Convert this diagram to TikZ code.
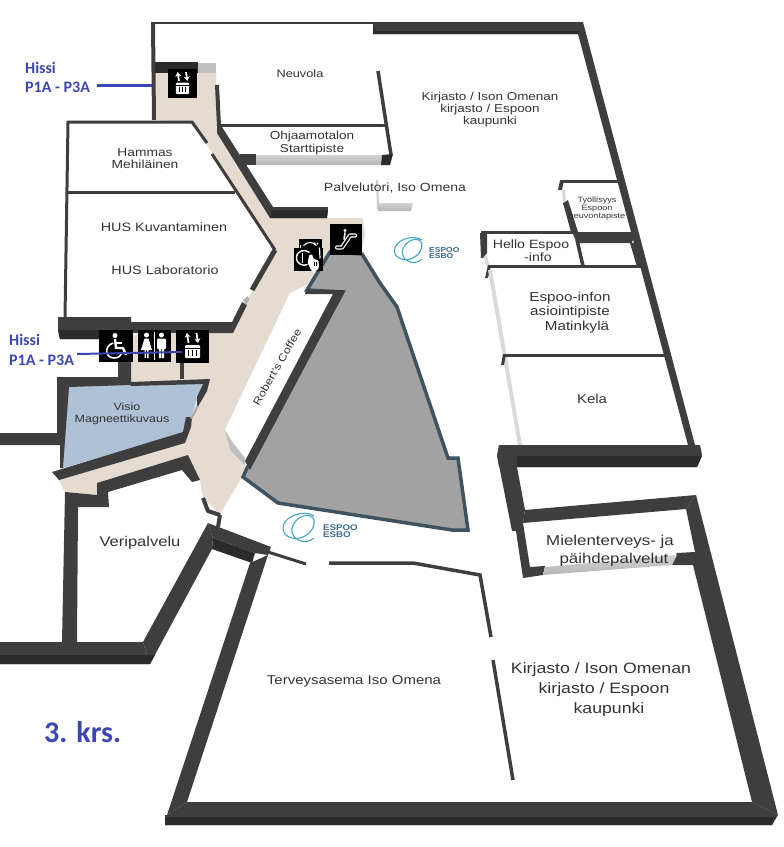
\documentclass[tikz,border=0pt]{standalone}
\usepackage{fontspec}
\setmainfont[FakeStretch=1.18]{Liberation Sans}
\newfontfamily\blueface{Carlito}
\usetikzlibrary{arrows.meta}
\definecolor{wallc}{HTML}{3E3E3E}
\definecolor{walld}{HTML}{2B2B2B}
\definecolor{floorc}{HTML}{E6DBD1}
\definecolor{voidc}{HTML}{A2A2A2}
\definecolor{voidb}{HTML}{3F5260}
\definecolor{visioc}{HTML}{AEC1D6}
\definecolor{bluec}{HTML}{3B46B4}
\definecolor{labelc}{HTML}{333333}
\definecolor{logoc}{HTML}{45A5C4}
\definecolor{logot}{HTML}{3A6A8E}
\tikzset{
 wall/.style={fill=wallc,draw=none},
 walldark/.style={fill=walld,draw=none},
 thin wall/.style={draw=wallc,line width=#1},
 thin wall/.default=3pt,
 glass/.style={top color=lightgray!70,bottom color=lightgray!95!black,draw=none},
 lbl/.style={text=labelc,align=center,inner sep=0pt,font=\fontsize{#1}{#1}\selectfont},
 lbl/.default=10,
 hissi/.style={text=bluec,anchor=west,inner sep=0pt,font=\blueface\bfseries\fontsize{16}{16}\selectfont},
 bluel/.style={draw=bluec,line width=2.5pt},
 logotext/.style={text=logot,inner sep=0pt,align=left,anchor=west,font=\bfseries\fontsize{#1}{#1}\selectfont},
 lift/.pic={
  \fill[black] (-16.5,-16.5) rectangle (16.5,16.5);
  \draw[white,line width=1.8pt,-{Stealth[length=4.5pt,width=6pt]}] (-4,-3) -- (-5.5,-13);
  \draw[white,line width=1.8pt,-{Stealth[length=4.5pt,width=6pt]}] (4,-13) -- (5.5,-3);
  \fill[white,rounded corners=1pt] (-7.5,-1) rectangle (7.5,12);
  \draw[black,line width=.8pt] (-7.5,2) -- (7.5,2);
  \draw[black,line width=.7pt] (-3.7,3.5) -- (-3.7,10) (0,3.5) -- (0,10) (3.7,3.5) -- (3.7,10);
 },
 wheelc/.pic={
  \fill[black] (-17,-16) rectangle (17,16);
  \fill[white] (-1,-10.5) circle (2.5);
  \draw[white,line width=2.4pt,line join=round] (-1,-7) -- (0,2) -- (7,2) -- (10,9);
  \draw[white,line width=1.6pt] (0,-3) -- (6,-3);
  \draw[white,line width=1.6pt] (-3,-3) .. controls (-12,0) and (-11,12) .. (-2,12) .. controls (2,12) and (5,10) .. (6,7);
 },
 wcicon/.pic={
  \fill[black] (-16.5,-16) rectangle (16.5,16);
  \fill[white] (-8,-11) circle (2.5);
  \fill[white] (-10,-7.5) -- (-6,-7.5) -- (-2.5,4) -- (-13.5,4) -- cycle;
  \fill[white] (-10,4) rectangle (-8.7,12) (-7.3,4) rectangle (-6,12);
  \draw[white,line width=.6pt] (0,-14) -- (0,14);
  \fill[white] (7,-11) circle (2.5);
  \fill[white,rounded corners=1pt] (2.5,-7.5) rectangle (11.5,3);
  \fill[white] (4.5,3) rectangle (6.6,12) (7.4,3) rectangle (9.5,12);
 },
 escal/.pic={
  \fill[black] (-16,-15.5) rectangle (16,15.5);
  \draw[white,line width=4.2pt,line join=round,line cap=round] (-9,8) -- (-4,8) -- (4,-4) -- (9,-4);
  \draw[black,line width=1.8pt,line join=round,line cap=round] (-9,8) -- (-4,8) -- (4,-4) -- (9,-4);
  \fill[white] (-1,-9) circle (1.6);
  \draw[white,line width=1.6pt] (-1,-7) -- (-2,0);
 },
 infoc/.pic={
  \fill[black] (-14.5,-11) rectangle (14.5,12.5);
  \fill[black] (-9.5,-19.5) rectangle (13,-10);
  \draw[white,line width=1.4pt] (1,-6) .. controls (-3,-10) and (-12,-8) .. (-12,-1) .. controls (-12,6) and (-5,8) .. (-1,6);
  \draw[white,line width=1.6pt] (-6,-6) -- (-6,4);
  \draw[white,line width=1.1pt] (-5,-13) .. controls (-1,-17) and (4,-17) .. (8,-13);
  \fill[white] (6,-15) circle (1.1) (9,-15) circle (1);
  \draw[white,line width=1.2pt] (-8,-14) -- (-8,-11);
  \draw[white,line width=1.2pt] (11,-11) -- (11.5,0);
  \fill[white,rounded corners=1pt] (1,-4) -- (4,-4) -- (4.5,0) -- (10,2) -- (10.5,9) -- (8,12.5) -- (3,12.5) -- (-1,4) -- cycle;
  \draw[black,line width=.5pt] (5.5,3) -- (5.5,7) (8,3) -- (8,7);
 },
 logo/.pic={
  \draw[logoc,line width=1.1pt] (15,-12) .. controls (6,-19) and (-17,-12) .. (-16,1) .. controls (-15,10) and (-3,13) .. (6,8) .. controls (13,4) and (16,-2) .. (15,-8) .. controls (12,-17) and (-4,-12) .. (-7,0) .. controls (-9,10) and (5,19) .. (15,10);
 },
}
\begin{document}
\begin{tikzpicture}[x=1pt,y=-1pt]
\useasboundingbox (0,0) rectangle (784,847);
% floor
\fill[floorc] (155,72) -- (216,72) -- (218,130) -- (272,218) -- (363,218) -- (365,235) -- (360,258) -- (290,293) -- (225,430) -- (230,450) -- (245,467) -- (242,477) -- (220,514) -- (203,498) -- (200,480) -- (188,455) -- (97,483) -- (97,495) -- (65,492) -- (58,478) -- (185,430) -- (205,383) -- (130,383) -- (130,335) -- (232,332) -- (250,295) -- (275,250) -- (192,122) -- (155,120) -- cycle;
% central void
\filldraw[fill=voidc,draw=voidb,line width=3.5pt,line join=miter] (330,252) -- (307,290) -- (343,292) -- (247,468) -- (243,477) -- (278,503) -- (452,530) -- (468,530) -- (458,458) -- (448,458) -- (397,307) -- (380,283) -- (362,254) -- cycle;
% Robert's Coffee
\fill[white] (290,293) -- (341,293) -- (247,461) -- (245,458) -- (233,443) -- (225,430) -- cycle;
\fill[lightgray] (225,430) -- (230,450) -- (245,466) -- (245,458) -- (233,443) -- cycle;
\fill[wallc] (344,290) -- (344,293) -- (250,470) -- (245,461) -- (333,294) -- (305,294) -- (306,290) -- cycle;
% Visio
\fill[visioc] (68,386) -- (203,382) -- (186,432) -- (63,468) -- cycle;
\fill[wall] (57,377) -- (118,377) -- (118,360) -- (131,360) -- (131,385) -- (69,387) -- (63,468) -- (60,468) -- (60,445) -- (0,445) -- (0,433) -- (57,433) -- cycle;
\fill[wall] (131,382) -- (210,379) -- (207,391) -- (200,403) -- (197,408) -- (197,397) -- (203,384) -- (131,386) -- cycle;
\fill[wall] (52,472) -- (183,432) -- (186,417) -- (192,417) -- (191,427) -- (185,443) -- (59,480) -- cycle;
\fill[gray!70] (197,406) -- (199,406) -- (192,419) -- (190,418) -- cycle;
% upper band of the clinic
\fill[wall] (58,317) -- (131,317) -- (131,322) -- (232,322) -- (242,302) -- (247,305) -- (233,333) -- (131,333) -- (131,339) -- (60,339) -- (58,330) -- cycle;
\fill[walldark] (58,330) -- (131,330) -- (131,339) -- (60,339) -- cycle;
\fill[gray!60] (243,300) -- (248,296) -- (249,300) -- (246,305) -- cycle;
\draw[thin wall=5pt] (275,250) -- (252,290);
\draw[thin wall=4pt] (182,362) -- (182,379);
\fill[wall] (118,360) rectangle (131,382);
% Hammas + HUS
\draw[thin wall=3pt,line join=miter] (207,143) -- (192,122) -- (68,122) -- (65,318);
\draw[thin wall=3pt] (212,154) -- (275,250);
\draw[thin wall=3pt] (68,192) -- (235,192);
% Top outline and elevator lobby
\draw[thin wall=2.5pt] (151,23) -- (373,23);
\draw[thin wall=4pt] (153,23) -- (154,120);
\fill[walldark] (155,62) rectangle (198,73);
\fill[lightgray] (198,63) rectangle (216,73);
\draw[thin wall=4pt] (217,85) -- (219,126);
\draw[thin wall=3pt] (218,125) -- (387,125);
\draw[thin wall=3.5pt] (378,71) -- (391,155);
\fill[wall] (222,127) -- (273,207) -- (328,207) -- (327,218) -- (270,218) -- (217,133) -- (217,125) -- cycle;
\fill[walldark] (270,218) -- (327,218) -- (328,210) -- (272,210) -- cycle;
\fill[wall] (240,154) rectangle (256,165);
\shade[glass] (256,155) -- (382,155) -- (381,165) -- (256,165) -- cycle;
\fill[walldark] (382,155) -- (393,154) -- (390,165) -- (381,165) -- cycle;
\fill[gray!40] (376,180) -- (378,180) -- (379,205) -- (377,205) -- cycle;
\shade[glass] (377,203) -- (413,203) -- (411,211) -- (378,211) -- cycle;
% right upper wall
\fill[wall] (373,22) -- (583,22) -- (695,445) -- (688,445) -- (578,34) -- (373,34) -- cycle;
\fill[walldark] (373,22) -- (373,34) -- (578,34) -- (579,31) -- (375,31) -- cycle;
% Tyollisyys box
\draw[thin wall=3pt] (560,181) -- (620,181);
\fill[wall] (560,180) -- (564,180) -- (562,190) -- (558,190) -- cycle;
\fill[wall] (563,203) -- (568,200) -- (578,232) -- (571,232) -- cycle;
\fill[gray!30] (562,190) -- (565,190) -- (566,201) -- (563,203) -- cycle;
\fill[wall] (572,232) -- (635,232) -- (632,243) -- (577,243) -- cycle;
\fill[wall] (630,243) -- (637,243) -- (645,267) -- (637,267) -- cycle;
% Hello Espoo
\draw[thin wall=3pt] (481,232) -- (573,232);
\fill[wall] (480,233) -- (487,233) -- (487,253) -- (483,258) -- (481,258) -- cycle;
\draw[thin wall=3.5pt] (577,240) -- (583,266);
\fill[gray!30] (484,257) -- (487,255) -- (489,266) -- (486,266) -- cycle;
\draw[thin wall=3pt] (488,266) -- (645,266);
\fill[wall] (488,265) -- (491,265) -- (488,278) -- (485,278) -- cycle;
% Espoo-infon and Kela
\fill[gray!30] (488,270) -- (492,270) -- (522,445) -- (518,445) -- cycle;
\draw[thin wall=3pt] (504,355) -- (667,355);
\fill[wall] (503,354) -- (506,354) -- (504,365) -- (501,365) -- cycle;
% Kela bottom wall
\fill[wall] (499,445) -- (700,445) -- (702,455) -- (697,467) -- (499,467) -- (497,455) -- cycle;
\fill[walldark] (517,456) -- (702,456) -- (697,467) -- (517,467) -- cycle;
% left descent and Mielenterveys frame
\fill[wall] (497,455) -- (517,456) -- (517,467) -- (525,510) -- (523,523) -- (530,567) -- (545,566) -- (543,575) -- (523,578) -- (516,531) -- (512,531) -- cycle;
\fill[wall] (525,510) -- (696,495) -- (686,509) -- (523,523) -- cycle;
\fill[wall] (696,495) -- (778,815) -- (752,802) -- (693,565) -- (672,565) -- (677,553) -- (695,552) -- (686,509) -- cycle;
\shade[glass] (545,567) -- (677,555) -- (672,565) -- (543,575) -- cycle;
% Terveysasema frame
\fill[wall] (167,815) -- (187,802) -- (752,802) -- (778,815) -- (772,825) -- (165,825) -- (165,815) -- cycle;
\fill[walldark] (165,817) -- (775,817) -- (772,825) -- (165,825) -- cycle;
\fill[wall] (167,815) -- (250,563) -- (268,555) -- (187,802) -- cycle;
\fill[wall] (208,523) -- (271,547) -- (268,555) -- (255,553) -- (213,538) -- cycle;
\fill[walldark] (213,538) -- (255,553) -- (252,563) -- (212,549) -- cycle;
% Veripalvelu frame
\fill[wall] (208,523) -- (213,538) -- (212,549) -- (150,664) -- (143,642) -- cycle;
\fill[wall] (0,642) -- (143,642) -- (150,664) -- (0,664) -- cycle;
\fill[walldark] (0,655) -- (155,655) -- (150,664) -- (0,664) -- cycle;
\fill[wall] (65,492) -- (97,495) -- (97,483) -- (188,455) -- (200,480) -- (192,482) -- (182,470) -- (108,492) -- (109,507) -- (78,507) -- (77,642) -- (62,642) -- cycle;
\draw[thin wall=4pt,line join=round] (203,498) -- (208,511) -- (220,515);
\draw[thin wall=4pt] (220,515) -- (218,527);
% Terveysasema inner walls
\draw[thin wall=3pt] (268,552) -- (306,564);
\draw[thin wall=3.5pt,line join=miter] (329,563) -- (413,563) -- (480,575) -- (491,637);
\draw[thin wall=3.5pt] (493,660) -- (513,780);
% labels
\node[lbl=10.8] (neuvola) at (300,73.5) {Neuvola};
\node[lbl=11.4] (kirj1) at (490,110) {Kirjasto / Ison Omenan\\[.6pt]kirjasto / Espoon\\[.6pt]kaupunki};
\node[lbl=11.5] (ohj) at (312,143.5) {Ohjaamotalon\\[1.5pt]Starttipiste};
\node[lbl=11.7] (hammas) at (145,159) {Hammas\\[.3pt]Mehiläinen};
\node[lbl=12.2] (kuva) at (164,227) {HUS Kuvantaminen};
\node[lbl=12.2] (labo) at (165,270) {HUS Laboratorio};
\node[lbl=11.9] (palv) at (395,188) {Palvelutori, Iso Omena};
\node[lbl=7.7] (tyo) at (597,209) {Työllisyys\\[.3pt]Espoon\\[.3pt]neuvontapiste};
\node[lbl=12] (hello) at (531,251) {Hello Espoo\\[1pt]\hspace*{14pt}-info};
\node[lbl=12.9] (info) at (570,312.5) {Espoo-infon\\[1.6pt]asiointipiste\\[1.6pt]\hspace*{14pt}Matinkylä};
\node[lbl=12.7] (kela) at (592,399) {Kela};
\node[lbl=10.6] (visio) at (122,414) {\hspace*{10pt}Visio\\[1.4pt]Magneettikuvaus};
\node[lbl=10.5,rotate=60] (robert) at (277,367) {Robert`s Coffee};
\node[lbl=14] (veri) at (140,543) {Veripalvelu};
\node[lbl=12.7] (terv) at (354,681) {Terveysasema Iso Omena};
\node[lbl=14.3] (miel) at (610,550.5) {Mielenterveys- ja\\[3.7pt]\hspace*{8pt}päihdepalvelut};
\node[lbl=15] (kirj2) at (601,690) {Kirjasto / Ison Omenan\\[5pt]\hspace*{6pt}kirjasto / Espoon\\[5pt]\hspace*{16pt}kaupunki};
% logos
\pic[scale=.88] at (408.5,250.5) {logo};
\node[logotext=7.2] (esp1) at (429,253) {ESPOO\\[-1pt]ESBO};
\pic at (299,528) {logo};
\node[logotext=8.2] (esp2) at (323,531.5) {ESPOO\\[-1pt]ESBO};
% icons
\pic[scale=.88] at (182.5,83.5) {lift};
\pic at (116,346) {wheelc};
\pic at (154.5,346) {wcicon};
\pic at (192.5,346) {lift};
\pic at (346,239.5) {escal};
\pic at (308.5,258.5) {infoc};
% blue notes
\node[hissi] (h1a) at (25,68) {Hissi};
\node[hissi] (h1b) at (25,87) {P1A - P3A};
\coordinate (h1e) at (152,85.5);
\draw[bluel] (97,85.5) -- (h1e);
\node[hissi] (h2a) at (9,340) {Hissi};
\node[hissi] (h2b) at (9,360) {P1A - P3A};
\coordinate (h2s) at (77,354);
\coordinate (h2e) at (182,352);
\draw[draw=bluec,line width=2pt] (h2s) -- (h2e);
\node[text=bluec,anchor=west,inner sep=0pt,font=\blueface\bfseries\fontsize{30}{30}\selectfont] (krs) at (44,732) {3. krs.};
\end{tikzpicture}
\end{document}
